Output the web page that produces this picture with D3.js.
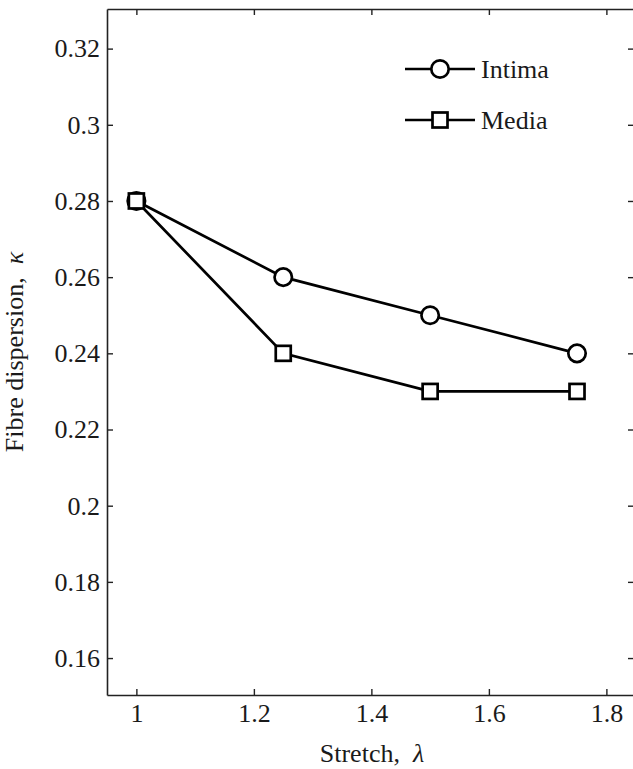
<!DOCTYPE html>
<html>
<head>
<meta charset="utf-8">
<script src="https://cdn.jsdelivr.net/npm/d3@7/dist/d3.min.js"></script>
<style>
  html, body { margin: 0; padding: 0; background: #fff; }
  svg { display: block; }
</style>
</head>
<body>
<svg id="chart" width="633" height="769"></svg>
<script>
// Stretch levels and fitted fibre dispersion per layer
const stretch = [1, 1.25, 1.5, 1.75];
const intima = [0.28, 0.26, 0.25, 0.24];
const media = [0.28, 0.24, 0.23, 0.23];

const xTicks = [1, 1.2, 1.4, 1.6, 1.8];
const yTicks = [0.16, 0.18, 0.2, 0.22, 0.24, 0.26, 0.28, 0.3, 0.32];

const FONT = '"Times New Roman", "Liberation Serif", Tinos, "DejaVu Serif", serif';
const FS = 26;
const textColor = "#1a1a1a";

const svg = d3.select("#chart");
const box = { left: 107, right: 634, top: 9, bottom: 695 };

const x = d3.scaleLinear().domain([0.95, 1.847]).range([box.left, box.right]);
const y = d3.scaleLinear().domain([0.1503, 0.3304]).range([box.bottom, box.top]);

const tickLen = 6;
const fmtY = d => String(+d.toFixed(2));
const fmtX = d => String(+d.toFixed(1));

// Frame and inward ticks on all four sides
const axisColor = "#222";
const g = svg.append("g");

const axBottom = g.append("g").attr("transform", `translate(0,${box.bottom})`)
  .call(d3.axisBottom(x).tickValues(xTicks).tickSizeInner(-tickLen).tickSizeOuter(0).tickPadding(9).tickFormat(fmtX));
const axTop = g.append("g").attr("transform", `translate(0,${box.top})`)
  .call(d3.axisTop(x).tickValues(xTicks).tickSizeInner(-tickLen).tickSizeOuter(0).tickFormat(""));
const axLeft = g.append("g").attr("transform", `translate(${box.left},0)`)
  .call(d3.axisLeft(y).tickValues(yTicks).tickSizeInner(-tickLen).tickSizeOuter(0).tickPadding(7).tickFormat(fmtY));
const axRight = g.append("g").attr("transform", `translate(${box.right},0)`)
  .call(d3.axisRight(y).tickValues(yTicks).tickSizeInner(-tickLen).tickSizeOuter(0).tickFormat(""));

[axBottom, axTop, axLeft, axRight].forEach(a => {
  a.attr("font-family", FONT).attr("font-size", FS);
  a.select(".domain").attr("stroke", axisColor).attr("stroke-width", 1.6);
  a.selectAll(".tick line").attr("stroke", axisColor).attr("stroke-width", 1.4);
  a.selectAll(".tick text").attr("font-family", FONT)
    .attr("font-size", FS).attr("fill", textColor);
});
axBottom.selectAll(".tick text").attr("dy", "0.71em");

// Axis titles
svg.append("text")
  .attr("x", 372)
  .attr("y", 762)
  .attr("text-anchor", "middle")
  .attr("font-family", FONT).attr("font-size", FS).attr("fill", textColor)
  .html('Stretch,  <tspan font-style="italic">λ</tspan>')
  .attr("xml:space", "preserve").style("white-space", "pre");

svg.append("text")
  .attr("transform", `translate(23,352) rotate(-90)`)
  .attr("text-anchor", "middle")
  .attr("font-family", FONT).attr("font-size", FS).attr("fill", textColor)
  .style("white-space", "pre")
  .html('Fibre dispersion,  <tspan font-style="italic">κ</tspan>');

// Series
const line = d3.line().x(d => x(d[0])).y(d => y(d[1]));
const lw = 2.7;

const intimaPts = stretch.map((s, i) => [s, intima[i]]);
const mediaPts = stretch.map((s, i) => [s, media[i]]);

svg.append("path").datum(intimaPts).attr("d", line)
  .attr("fill", "none").attr("stroke", "#000").attr("stroke-width", lw);
svg.selectAll("circle.intima").data(intimaPts).enter().append("circle")
  .attr("class", "intima")
  .attr("cx", d => x(d[0])).attr("cy", d => y(d[1])).attr("r", 8.7)
  .attr("fill", "#fff").attr("stroke", "#000").attr("stroke-width", lw);

svg.append("path").datum(mediaPts).attr("d", line)
  .attr("fill", "none").attr("stroke", "#000").attr("stroke-width", lw);
const sq = 15;
svg.selectAll("rect.media").data(mediaPts).enter().append("rect")
  .attr("class", "media")
  .attr("x", d => x(d[0]) - sq / 2).attr("y", d => y(d[1]) - sq / 2)
  .attr("width", sq).attr("height", sq)
  .attr("fill", "#fff").attr("stroke", "#000").attr("stroke-width", lw);

// Legend
const legend = svg.append("g");
const legendItems = [
  { name: "Intima", shape: "circle", ly: 69 },
  { name: "Media", shape: "square", ly: 120 }
];
legendItems.forEach(it => {
  legend.append("line")
    .attr("x1", 405).attr("x2", 475).attr("y1", it.ly).attr("y2", it.ly)
    .attr("stroke", "#000").attr("stroke-width", lw);
  if (it.shape === "circle") {
    legend.append("circle").attr("cx", 440).attr("cy", it.ly).attr("r", 8.7)
      .attr("fill", "#fff").attr("stroke", "#000").attr("stroke-width", lw);
  } else {
    legend.append("rect").attr("x", 440 - sq / 2).attr("y", it.ly - sq / 2)
      .attr("width", sq).attr("height", sq)
      .attr("fill", "#fff").attr("stroke", "#000").attr("stroke-width", lw);
  }
  legend.append("text").attr("x", 481).attr("y", it.ly + 9)
    .attr("font-family", FONT).attr("font-size", FS).attr("fill", textColor)
    .text(it.name);
});
</script>
</body>
</html>
